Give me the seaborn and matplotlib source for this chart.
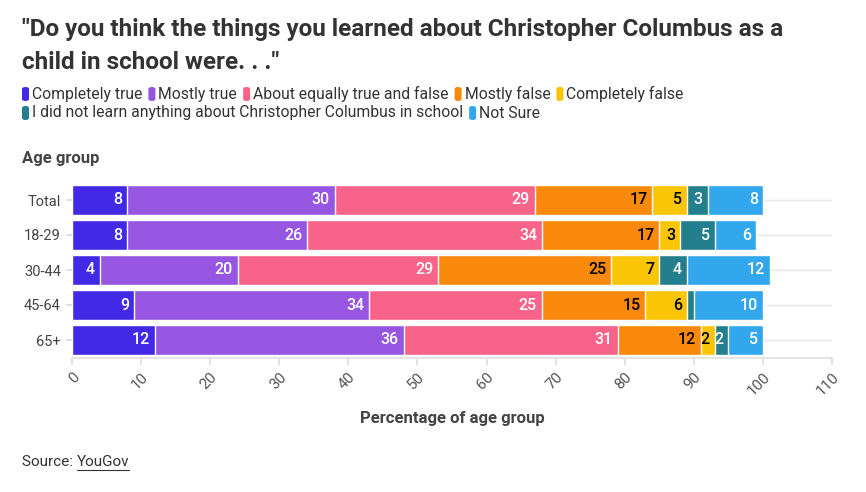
import matplotlib
matplotlib.use("Agg")
import matplotlib.pyplot as plt
import seaborn as sns
import pandas as pd
import numpy as np
from matplotlib.patches import FancyBboxPatch
from matplotlib.lines import Line2D

sns.set_theme(style="white")
plt.rcParams['font.family'] = ['Roboto', 'DejaVu Sans']

groups = ["Total", "18-29", "30-44", "45-64", "65+"]
answers = ["Completely true", "Mostly true", "About equally true and false",
           "Mostly false", "Completely false",
           "I did not learn anything about Christopher Columbus in school", "Not Sure"]
completely_true = [8, 8, 4, 9, 12]
mostly_true = [30, 26, 20, 34, 36]
equally = [29, 34, 29, 25, 31]
mostly_false = [17, 17, 25, 15, 12]
completely_false = [5, 3, 7, 6, 2]
did_not_learn = [3, 5, 4, 1, 2]
not_sure = [8, 6, 12, 10, 5]

colors = ["#4229E5", "#9656E1", "#F76389", "#F8890B", "#FBC507", "#237F8E", "#33A7EE"]
label_colors = ["white", "white", "white", "black", "black", "white", "white"]

series = [completely_true, mostly_true, equally, mostly_false,
          completely_false, did_not_learn, not_sure]
df = pd.DataFrame(dict(zip(answers, series)), index=groups)
cum = df.cumsum(axis=1)

fig = plt.figure(figsize=(8.66, 4.92), dpi=100)
ax = fig.add_axes([72 / 866, 1 - 357.5 / 492, 760 / 866, 175 / 492])

for i, g in enumerate(groups):
    ax.axhline(i, color="#e8e8e8", lw=1, zorder=0)

# stacked bars: draw cumulative totals from the last series backwards
for k in range(len(answers) - 1, -1, -1):
    d = pd.DataFrame({"group": groups, "value": cum[answers[k]].values})
    sns.barplot(data=d, x="value", y="group", orient="h", color=colors[k],
                width=0.86, edgecolor="white", linewidth=1, ax=ax,
                saturation=1, zorder=2)

for k, a in enumerate(answers):
    for i, g in enumerate(groups):
        v = df.loc[g, a]
        if v < 2:
            continue
        ax.text(cum.loc[g, a] - 0.7, i, str(v), ha="right", va="center",
                color=label_colors[k], fontsize=11.5, fontweight="medium", zorder=3)

ax.set_xlim(0, 110)
ax.set_ylim(4.5, -0.5)
ax.set_xticks(np.arange(0, 111, 10))
ax.set_xticklabels([str(t) for t in range(0, 111, 10)], rotation=45, ha="right",
                   rotation_mode="anchor", fontsize=11, color="#555555")
ax.tick_params(axis="x", length=5, color="#dddddd", bottom=True, pad=4)
ax.tick_params(axis="y", length=4, color="#dddddd", left=True, pad=4, labelsize=10.5,
               labelcolor="#444444")
for s in ["top", "right", "left"]:
    ax.spines[s].set_visible(False)
ax.spines["bottom"].set_color("#e0e0e0")
ax.set_xlabel("")
ax.set_ylabel("")

fig.text(452 / 866, 1 - 418 / 492, "Percentage of age group", ha="center", va="center",
         fontsize=12, fontweight="bold", color="#444444")
fig.text(22 / 866, 1 - 158 / 492, "Age group", ha="left", va="center",
         fontsize=12, fontweight="bold", color="#444444")

fig.text(22 / 866, 1 - 18 / 492,
         "\"Do you think the things you learned about Christopher Columbus as a\nchild in school were. . .\"",
         ha="left", va="top", fontsize=17.5, fontweight="bold", color="#333333",
         linespacing=1.55)

# legend rows, flowing left to right
fig.canvas.draw()
renderer = fig.canvas.get_renderer()
rows = [(answers[:5], colors[:5], 94), (answers[5:], colors[5:], 113)]
for names, cols, ypix in rows:
    x = 22
    for name, c in zip(names, cols):
        y = 1 - ypix / 492
        box = FancyBboxPatch((x / 866, y - 7 / 492), 7 / 866, 14 / 492,
                             boxstyle="round,pad=0,rounding_size=0.004",
                             transform=fig.transFigure, facecolor=c,
                             edgecolor="none")
        fig.patches.append(box)
        t = fig.text((x + 10) / 866, y, name, ha="left", va="center",
                     fontsize=11.3, color="#333333")
        w = t.get_window_extent(renderer).width
        x = x + 10 + w + 6

src = fig.text(22 / 866, 1 - 462 / 492, "Source: ", ha="left", va="center",
               fontsize=11, color="#333333")
w = src.get_window_extent(renderer).width
yg = fig.text((22 + w) / 866, 1 - 462 / 492, "YouGov", ha="left", va="center",
              fontsize=11, color="#333333")
ext = yg.get_window_extent(renderer)
fig.lines.append(Line2D([ext.x0 / 866, ext.x1 / 866],
                        [(ext.y0 - 1) / 492, (ext.y0 - 1) / 492],
                        transform=fig.transFigure, color="#333333", lw=0.8))

fig.savefig("out.png", dpi=100, facecolor="white")
